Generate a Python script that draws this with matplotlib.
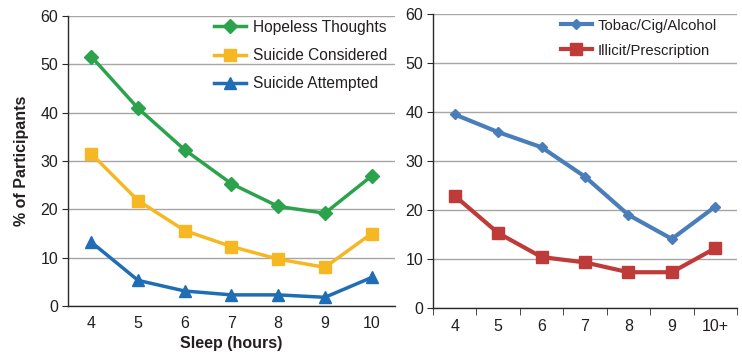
import matplotlib
matplotlib.use("Agg")
import matplotlib.pyplot as plt

plt.rcParams['font.family'] = ['Liberation Sans', 'DejaVu Sans']

left_cats = ["4", "5", "6", "7", "8", "9", "10"]
hopeless = [51.6, 40.9, 32.3, 25.3, 20.6, 19.2, 26.9]
considered = [31.5, 21.8, 15.6, 12.3, 9.7, 8.0, 15.0]
attempted = [13.2, 5.3, 3.1, 2.3, 2.3, 1.8, 5.9]

right_cats = ["4", "5", "6", "7", "8", "9", "10+"]
tobacco = [39.5, 35.9, 32.8, 26.8, 19.0, 14.1, 20.7]
illicit = [22.9, 15.3, 10.4, 9.3, 7.3, 7.3, 12.2]

yticks = [0, 10, 20, 30, 40, 50, 60]

fig = plt.figure(figsize=(7.42, 3.54), dpi=100)
ax1 = fig.add_axes([68/742, 1-306/354, (395-68)/742, (306-16)/354])
ax2 = fig.add_axes([433/742, 1-308/354, (737-433)/742, (308-14)/354])

GRID = '#a6a6a6'
AXC = '#2a2a2a'
TXT = '#231f20'

def style(ax, cats, xticks_between):
    ax.set_ylim(0, 60)
    ax.set_xlim(-0.5, len(cats)-0.5)
    ax.set_yticks(yticks)
    ax.grid(axis='y', color=GRID, linewidth=1.0)
    ax.set_axisbelow(True)
    for s in ['top', 'right']:
        ax.spines[s].set_visible(False)
    ax.spines['left'].set_color(AXC)
    ax.spines['bottom'].set_color(AXC)
    ax.spines['left'].set_linewidth(1.0)
    ax.spines['bottom'].set_linewidth(1.0)
    ax.tick_params(axis='y', length=4, color=AXC, labelsize=11.5, labelcolor=TXT, pad=3)
    x = list(range(len(cats)))
    ax.set_xticks(x)
    ax.set_xticklabels(cats)
    if xticks_between:
        ax.set_xticks([i - 0.5 for i in range(len(cats)+1)], minor=True)
        ax.tick_params(axis='x', which='minor', length=5, color=AXC)
        ax.tick_params(axis='x', which='major', length=0, labelsize=11.5, labelcolor=TXT, pad=8)
    else:
        ax.tick_params(axis='x', which='major', length=0, labelsize=11.5, labelcolor=TXT, pad=7)

style(ax1, left_cats, False)
style(ax2, right_cats, True)

x1 = list(range(len(left_cats)))
ax1.plot(x1, hopeless, color='#2ba24c', lw=2.5, marker='D', ms=7, label='Hopeless Thoughts')
ax1.plot(x1, considered, color='#f6b822', lw=2.5, marker='s', ms=9, label='Suicide Considered')
ax1.plot(x1, attempted, color='#1f6db4', lw=2.5, marker='^', ms=9, label='Suicide Attempted')
ax1.set_ylabel('% of Participants', fontsize=11.5, fontweight='bold', labelpad=8, color=TXT)
ax1.set_xlabel('Sleep (hours)', fontsize=11.5, fontweight='bold', labelpad=4, color=TXT)
leg1 = ax1.legend(loc='upper right', bbox_to_anchor=(1.02, 1.035), frameon=False, fontsize=11.2,
           handlelength=2.1, labelspacing=0.85, handletextpad=0.45)
for t in leg1.get_texts():
    t.set_color(TXT)

x2 = list(range(len(right_cats)))
ax2.plot(x2, tobacco, color='#4a7ebb', lw=3, marker='D', ms=5, label='Tobac/Cig/Alcohol')
ax2.plot(x2, illicit, color='#be3b3a', lw=3, marker='s', ms=8, label='Illicit/Prescription')
leg2 = ax2.legend(loc='upper right', bbox_to_anchor=(0.978, 1.03), frameon=False, fontsize=10.7,
           handlelength=2.1, labelspacing=0.75, handletextpad=0.4)
for t in leg2.get_texts():
    t.set_color(TXT)

fig.savefig('out.png', dpi=100)
